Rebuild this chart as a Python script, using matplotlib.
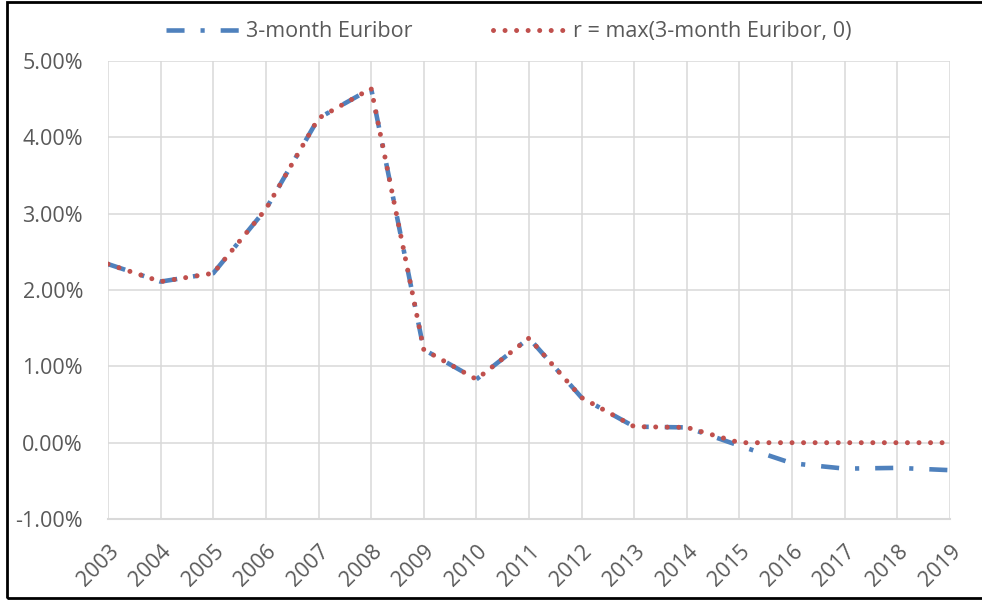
import matplotlib
matplotlib.use('Agg')
import matplotlib.pyplot as plt
from matplotlib.patches import Rectangle
from matplotlib.ticker import FuncFormatter

# values, in percent
years = [2003, 2004, 2005, 2006, 2007, 2008, 2009, 2010, 2011,
         2012, 2013, 2014, 2015, 2016, 2017, 2018, 2019]
euribor = [2.34, 2.11, 2.22, 3.06, 4.25, 4.64, 1.22, 0.83, 1.37,
           0.59, 0.21, 0.20, -0.04, -0.27, -0.34, -0.33, -0.36]
r_floor = [2.34, 2.11, 2.22, 3.06, 4.25, 4.64, 1.22, 0.83, 1.37,
           0.59, 0.21, 0.20, 0.00, 0.00, 0.00, 0.00, 0.00]
y_ticks = [-1, 0, 1, 2, 3, 4, 5]

BLUE = '#4F81BD'
RED = '#C0504D'
TEXT = '#595959'
GRID = '#D9D9D9'

plt.rcParams['font.family'] = ['Open Sans', 'DejaVu Sans']
plt.rcParams['lines.scale_dashes'] = False

fig = plt.figure(figsize=(9.82, 6.01), dpi=100)
ax = fig.add_axes([0.110, 0.1364, 0.8574, 0.7621])

ax.plot(years, euribor, color=BLUE, lw=3.3, solid_capstyle='butt',
        dash_capstyle='butt', linestyle=(0, (13, 11.5, 3, 11.5)),
        label='3-month Euribor', zorder=3)
ax.plot(years, r_floor, color=RED, lw=3.6, dash_capstyle='round',
        linestyle=(0, (0.01, 8.3)), label='r = max(3-month Euribor, 0)', zorder=4)

ax.set_xlim(2003, 2019)
ax.set_ylim(-1, 5)
ax.set_xticks(years)
ax.set_yticks(y_ticks)
ax.yaxis.set_major_formatter(FuncFormatter(lambda v, p: '{:.2f}%'.format(v)))

ax.grid(True, color=GRID, lw=1.1)
ax.set_axisbelow(True)
for side in ['left', 'right', 'top']:
    ax.spines[side].set_visible(False)
ax.spines['bottom'].set_color(GRID)
ax.spines['bottom'].set_linewidth(1.5)

ax.tick_params(axis='both', length=0, labelsize=15.5, labelcolor=TEXT)
ax.tick_params(axis='y', pad=18)
ax.tick_params(axis='x', pad=16)
for lab in ax.get_xticklabels():
    lab.set_rotation(45)
    lab.set_ha('right')
    lab.set_va('top')
    lab.set_rotation_mode('anchor')

leg = fig.legend(loc='center', bbox_to_anchor=(0.518, 0.947), ncol=2,
                 frameon=False, fontsize=15.5, handlelength=3.5,
                 handletextpad=0.25, columnspacing=3.7)
for t in leg.get_texts():
    t.set_color(TEXT)

# black frame round the chart, right side runs off the picture
fig.patches.append(Rectangle((0.0071, 0.0042), 1.5, 0.9925, fill=False,
                             lw=2, edgecolor='black', transform=fig.transFigure))

fig.savefig('out.png', dpi=100)
